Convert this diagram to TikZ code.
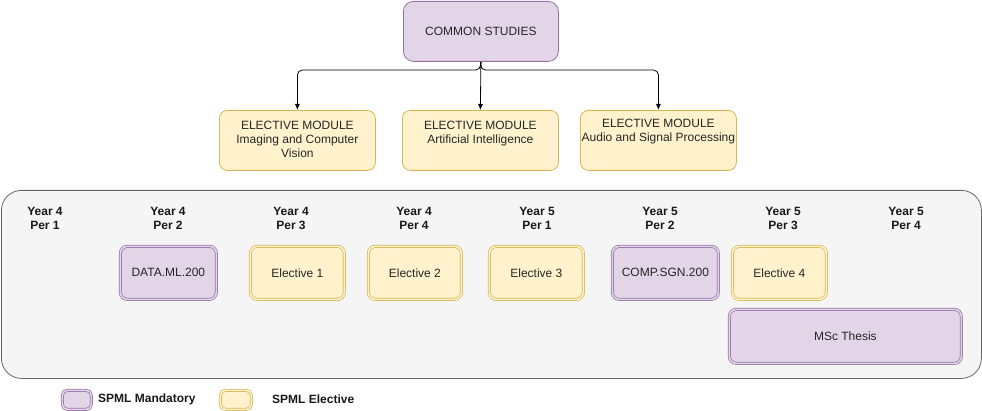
\documentclass[tikz,border=0pt]{standalone}
\usepackage{fontspec}
\setmainfont{Liberation Sans}
\usetikzlibrary{arrows.meta}
\definecolor{pfill}{HTML}{E1D5E7}
\definecolor{pline}{HTML}{9673A6}
\definecolor{yfill}{HTML}{FFF2CC}
\definecolor{yline}{HTML}{D6B656}
\definecolor{cfill}{HTML}{F5F5F5}
\definecolor{cline}{HTML}{666666}
\tikzset{
  txt/.style={font=\fontsize{12}{14}\selectfont, inner sep=0pt, align=center, text=black!85},
  hdr/.style={font=\fontsize{12}{14}\selectfont\bfseries, inner sep=0pt, align=center, text=black!90},
  pbox/.style={draw=pline, fill=pfill, rounded corners=10pt, line width=0.8pt, inner sep=0pt, anchor=north west},
  ybox/.style={draw=yline, fill=yfill, rounded corners=8pt, line width=0.8pt, inner sep=0pt, anchor=north west},
  pdbl/.style={draw=pline, double=pfill, double distance=1.6pt, line width=0.7pt, fill=pfill, rounded corners=7pt, inner sep=0pt, anchor=north west, font=\fontsize{12}{14}\selectfont, text=black!85},
  ydbl/.style={draw=yline, double=yfill, double distance=1.6pt, line width=0.7pt, fill=yfill, rounded corners=7pt, inner sep=0pt, anchor=north west, font=\fontsize{12}{14}\selectfont, text=black!85},
  conn/.style={draw=black, line width=0.8pt, rounded corners=5pt, -{Latex[length=6pt,width=5pt]}}
}
\begin{document}
\begin{tikzpicture}[x=1pt,y=-1pt]
\useasboundingbox (0,0) rectangle (982,411);
% top
\node[pbox, minimum width=155pt, minimum height=60pt] (cs) at (403,1) {};
\node[txt] (cst) at (cs.center) {COMMON STUDIES};
\node[ybox, minimum width=156pt, minimum height=60pt] (em1) at (219,110) {};
\node[ybox, minimum width=156pt, minimum height=60pt] (em2) at (402,110) {};
\node[ybox, minimum width=156pt, minimum height=60pt] (em3) at (580,110) {};
\node[txt, anchor=north] (em1t) at ([yshift=-10.5pt]em1.north) {ELECTIVE MODULE\\Imaging and Computer\\Vision};
\node[txt, anchor=north] (em2t) at ([yshift=-10.5pt]em2.north) {ELECTIVE MODULE\\Artificial Intelligence};
\node[txt, anchor=north] (em3t) at ([yshift=-9pt]em3.north) {ELECTIVE MODULE\\Audio and Signal Processing};
\coordinate (j) at (480.5,70);
\draw[conn] (cs.south) -- (j) -| (em1.north);
\draw[conn] (cs.south) -- (j) -| (em3.north);
\draw[conn] (cs.south) -- (em2.north);
% container
\node[draw=cline, fill=cfill, line width=0.8pt, rounded corners=20pt, minimum width=980pt, minimum height=188pt, anchor=north west, inner sep=0pt] (cont) at (1,190) {};
\node[hdr] (h1) at (45,218.5) {Year 4\\Per 1};
\node[hdr] (h2) at (168,218.5) {Year 4\\Per 2};
\node[hdr] (h3) at (291,218.5) {Year 4\\Per 3};
\node[hdr] (h4) at (414,218.5) {Year 4\\Per 4};
\node[hdr] (h5) at (537,218.5) {Year 5\\Per 1};
\node[hdr] (h6) at (660,218.5) {Year 5\\Per 2};
\node[hdr] (h7) at (783,218.5) {Year 5\\Per 3};
\node[hdr] (h8) at (906,218.5) {Year 5\\Per 4};
% courses
\node[pdbl, minimum width=96pt, minimum height=53pt] (dml) at (120,246) {DATA.ML.200};
\node[ydbl, minimum width=94pt, minimum height=53pt] (e1) at (250,246) {Elective 1};
\node[ydbl, minimum width=93pt, minimum height=53pt] (e2) at (368,246) {Elective 2};
\node[ydbl, minimum width=94pt, minimum height=53pt] (e3) at (489,246) {Elective 3};
\node[pdbl, minimum width=106pt, minimum height=53pt] (sgn) at (612,246) {COMP.SGN.200};
\node[ydbl, minimum width=94pt, minimum height=53pt] (e4) at (732,246) {Elective 4};
\node[pdbl, minimum width=232pt, minimum height=54pt] (msc) at (729,309) {MSc Thesis};
% legend
\node[pdbl, rounded corners=5pt, minimum width=29pt, minimum height=19pt] (lp) at (62,390) {};
\node[hdr, anchor=west] (lpt) at (98,399.5) {SPML Mandatory};
\node[ydbl, rounded corners=5pt, minimum width=31pt, minimum height=19pt] (ly) at (220,390) {};
\node[hdr, anchor=west] (lyt) at (272,399.5) {SPML Elective};
\end{tikzpicture}
\end{document}
